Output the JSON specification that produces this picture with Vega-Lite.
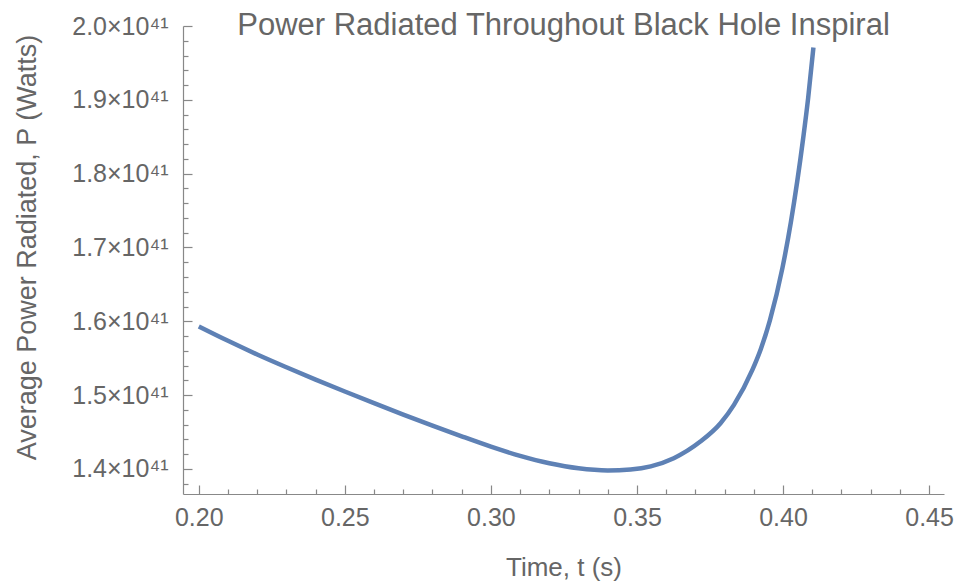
{
  "$schema": "https://vega.github.io/schema/vega-lite/v6.json",
  "width": 761,
  "height": 468,
  "autosize": "none",
  "padding": {"left": 183, "top": 26, "right": 16, "bottom": 94},
  "background": "white",
  "config": {"view": {"stroke": null}, "font": "Liberation Sans"},
  "title": {
    "text": "Power Radiated Throughout Black Hole Inspiral",
    "fontSize": 31,
    "font": "Liberation Sans",
    "fontWeight": "normal",
    "color": "#666666",
    "anchor": "middle",
    "frame": "group",
    "baseline": "alphabetic",
    "offset": -11,
    "dy": 41
  },
  "data": {
    "values": [
      {"t": 0.200, "P": 1.593e41},
      {"t": 0.210, "P": 1.5735e41},
      {"t": 0.220, "P": 1.555e41},
      {"t": 0.230, "P": 1.5377e41},
      {"t": 0.240, "P": 1.521e41},
      {"t": 0.250, "P": 1.5048e41},
      {"t": 0.260, "P": 1.489e41},
      {"t": 0.270, "P": 1.4736e41},
      {"t": 0.280, "P": 1.4587e41},
      {"t": 0.290, "P": 1.4441e41},
      {"t": 0.300, "P": 1.4301e41},
      {"t": 0.310, "P": 1.4176e41},
      {"t": 0.320, "P": 1.4076e41},
      {"t": 0.330, "P": 1.4008e41},
      {"t": 0.340, "P": 1.398e41},
      {"t": 0.3478, "P": 1.3993e41},
      {"t": 0.3547, "P": 1.4035e41},
      {"t": 0.3626, "P": 1.4145e41},
      {"t": 0.3717, "P": 1.437e41},
      {"t": 0.3786, "P": 1.4619e41},
      {"t": 0.3832, "P": 1.4867e41},
      {"t": 0.3895, "P": 1.5341e41},
      {"t": 0.3924, "P": 1.5625e41},
      {"t": 0.3955, "P": 1.6013e41},
      {"t": 0.3998, "P": 1.6723e41},
      {"t": 0.4027, "P": 1.7347e41},
      {"t": 0.4069, "P": 1.8481e41},
      {"t": 0.4086, "P": 1.9025e41},
      {"t": 0.4104, "P": 1.9709e41}
    ]
  },
  "mark": {"type": "line", "color": "#5E81B5", "strokeWidth": 4.5, "interpolate": "monotone", "clip": true},
  "encoding": {
    "x": {
      "field": "t",
      "type": "quantitative",
      "scale": {"domain": [0.1946, 0.4551], "nice": false, "zero": false},
      "axis": {
        "title": "Time, t (s)",
        "values": [0.20, 0.21, 0.22, 0.23, 0.24, 0.25, 0.26, 0.27, 0.28, 0.29, 0.30, 0.31, 0.32, 0.33, 0.34, 0.35, 0.36, 0.37, 0.38, 0.39, 0.40, 0.41, 0.42, 0.43, 0.44, 0.45],
        "labelExpr": "round(datum.value*100) % 5 == 0 ? format(datum.value, '.2f') : ''",
        "tickSize": {"condition": {"test": "round(datum.value*100) % 5 == 0", "value": -9}, "value": -5},
        "grid": false,
        "domainColor": "#888888",
        "tickColor": "#888888",
        "domainWidth": 1.2,
        "tickWidth": 1.2,
        "labelColor": "#666666",
        "labelFontSize": 25,
        "labelPadding": 20,
        "labelFlush": false,
        "labelOverlap": false,
        "titleFontSize": 26,
        "titleColor": "#666666",
        "titleFontWeight": "normal",
        "titleBaseline": "alphabetic",
        "titleY": 81
      }
    },
    "y": {
      "field": "P",
      "type": "quantitative",
      "scale": {"domain": [1.366e41, 2.0e41], "nice": false, "zero": false},
      "axis": {
        "title": "Average Power Radiated, P (Watts)",
        "values": [1.38e41, 1.4e41, 1.42e41, 1.44e41, 1.46e41, 1.48e41, 1.5e41, 1.52e41, 1.54e41, 1.56e41, 1.58e41, 1.6e41, 1.62e41, 1.64e41, 1.66e41, 1.68e41, 1.7e41, 1.72e41, 1.74e41, 1.76e41, 1.78e41, 1.8e41, 1.82e41, 1.84e41, 1.86e41, 1.88e41, 1.9e41, 1.92e41, 1.94e41, 1.96e41, 1.98e41, 2.0e41],
        "labelExpr": "round(datum.value/1e39) % 10 == 0 ? format(datum.value/1e41, '.1f') + '×10⁴¹' : ''",
        "tickSize": {"condition": {"test": "round(datum.value/1e39) % 10 == 0", "value": -9}, "value": -5},
        "grid": false,
        "domainColor": "#888888",
        "tickColor": "#888888",
        "domainWidth": 1.2,
        "tickWidth": 1.2,
        "labelColor": "#666666",
        "labelFontSize": 25,
        "labelPadding": 24,
        "labelFlush": false,
        "labelOverlap": false,
        "titleFontSize": 27,
        "titleColor": "#666666",
        "titleFontWeight": "normal",
        "titleBaseline": "middle",
        "titleX": -156,
        "titleY": 221
      }
    }
  }
}
